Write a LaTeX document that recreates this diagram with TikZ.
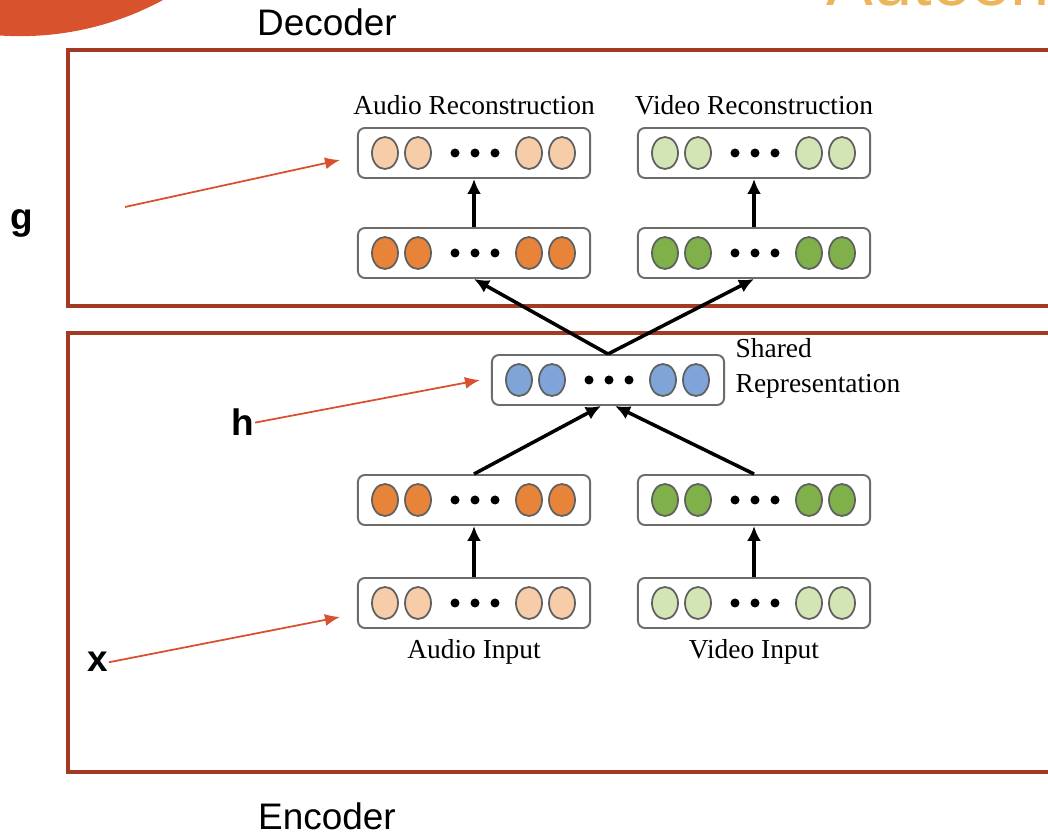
\documentclass[tikz,border=0pt]{standalone}
\usepackage{fontspec}
\setmainfont{Liberation Sans}
\newfontfamily\layerfont{Liberation Serif}
\usetikzlibrary{arrows.meta,positioning,shapes}
\usepackage{xcolor}

\definecolor{framered}{HTML}{A33A24}
\definecolor{pointred}{HTML}{D9502E}
\definecolor{blobred}{HTML}{D9522E}
\definecolor{titleyellow}{HTML}{EDB55A}
\definecolor{audiolight}{HTML}{F6CDA8}
\definecolor{audiodark}{HTML}{E8843A}
\definecolor{videolight}{HTML}{D3E5B5}
\definecolor{videodark}{HTML}{7FB04A}
\definecolor{sharedblue}{HTML}{7FA4D8}

\tikzset{
  layerbox/.style={draw=gray!85!black, line width=0.55pt, rounded corners=0.07cm,
    fill=white, minimum width=2.32cm, minimum height=0.5cm, inner sep=0pt},
  unit/.style={draw=gray!75!black, line width=0.5pt},
  flow/.style={-{Latex[length=0.15cm,width=0.14cm]}, line width=1pt},
  pointer/.style={-{Latex[length=0.15cm,width=0.12cm]}, draw=pointred, line width=0.5pt},
  frame/.style={draw=framered, line width=1.4pt},
  lbl/.style={font=\layerfont\fontsize{7.8}{9}\selectfont, inner sep=0pt},
  part/.style={font=\fontsize{10.5}{12}\selectfont, inner sep=0pt},
  var/.style={font=\bfseries\fontsize{10.5}{12}\selectfont, inner sep=0pt},
}

% a layer: name, centre x, centre y, unit colour
\newcommand{\layer}[4]{
  \node[layerbox] (#1) at (#2,#3) {};
  \foreach \dx in {-89,-56,55,88}
    \draw[unit, fill=#4] (#2+\dx,#3) ellipse (0.13cm and 0.16cm);
  \foreach \dx in {-19,1,21}
    \fill (#2+\dx,#3) circle (0.045cm);
}

\begin{document}
\begin{tikzpicture}[x=0.01cm,y=-0.01cm]
      \useasboundingbox (0,0) rectangle (1048,834);
      \clip (0,0) rectangle (1048,834);
      \fill[white] (0,0) rectangle (1048,834);

      % slide decoration
      \fill[blobred] (20,-264) circle (3cm);
      \node[anchor=base west, text=titleyellow, inner sep=0pt,
        font=\fontsize{20}{24}\selectfont] (title) at (826,6) {Autoencoder};

      % frames
      \draw[frame] (68,50) rectangle (1070,306);
      \draw[frame] (68,333) rectangle (1070,772);
      \node[part, anchor=base] (dec) at (327,36) {Decoder};
      \node[part, anchor=base] (enc) at (327,830) {Encoder};

      % layers
      \layer{arec}{474}{153}{audiolight}
      \layer{vrec}{754}{153}{videolight}
      \layer{adec}{474}{253}{audiodark}
      \layer{vdec}{754}{253}{videodark}
      \layer{shared}{608}{380}{sharedblue}
      \layer{aenc}{474}{500}{audiodark}
      \layer{venc}{754}{500}{videodark}
      \layer{ain}{474}{603}{audiolight}
      \layer{vin}{754}{603}{videolight}

      \node[lbl, anchor=base] (areclbl) at (474,115) {Audio Reconstruction};
      \node[lbl, anchor=base] (vreclbl) at (754,115) {Video Reconstruction};
      \node[lbl, anchor=base west] (sharedlbl) at (735,358) {Shared};
      \node[lbl, anchor=base west] (reprlbl) at (735,393) {Representation};
      \node[lbl, anchor=base] (ainlbl) at (474,659) {Audio Input};
      \node[lbl, anchor=base] (vinlbl) at (754,659) {Video Input};

      % data flow
      \draw[flow] (ain) -- (aenc);
      \draw[flow] (vin) -- (venc);
      \draw[flow] (aenc.north) -- ([xshift=-0.07cm]shared.south);
      \draw[flow] (venc.north) -- ([xshift=0.07cm]shared.south);
      \draw[flow] (shared.north) -- (adec.south);
      \draw[flow] (shared.north) -- (vdec.south);
      \draw[flow] (adec) -- (arec);
      \draw[flow] (vdec) -- (vrec);

      % variables
      \node[var, anchor=base] (g) at (22,230) {g};
      \node[var, anchor=base] (h) at (243,436) {h};
      \node[var, anchor=base] (x) at (98,672) {x};
      \coordinate (gtail) at (125,207);
      \coordinate (gtip) at (340,160);
      \coordinate (htip) at (480,380);
      \coordinate (xtip) at (340,617);
      \draw[pointer] (gtail) -- (gtip);
      \draw[pointer] (h.east) -- (htip);
      \draw[pointer] (x.east) -- (xtip);
    \end{tikzpicture}
\end{document}
